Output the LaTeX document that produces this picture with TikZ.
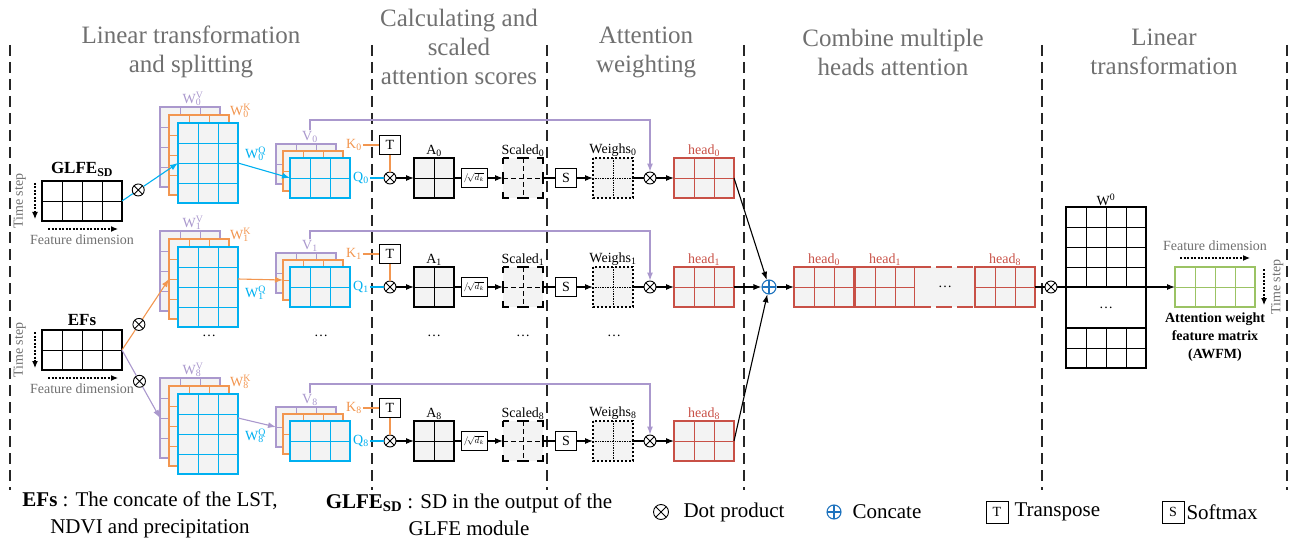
\documentclass[tikz,border=0pt]{standalone}
\usepackage{fontspec}
\setmainfont{Liberation Serif}
\usetikzlibrary{arrows.meta,positioning}

\definecolor{wpurple}{RGB}{170,152,205}
\definecolor{worange}{RGB}{242,150,80}
\definecolor{wblue}{RGB}{0,176,240}
\definecolor{hred}{RGB}{200,80,70}
\definecolor{agreen}{RGB}{155,195,100}
\definecolor{txtgray}{RGB}{112,112,112}
\definecolor{cellgray}{RGB}{243,243,243}
\definecolor{catblue}{RGB}{30,115,190}

\newcommand{\fhead}{\fontsize{25}{29}\selectfont}
\newcommand{\flab}{\fontsize{14}{16}\selectfont}
\newcommand{\fbig}{\fontsize{17}{20}\selectfont}
\newcommand{\fleg}{\fontsize{21}{27}\selectfont}
\newcommand{\fsmall}{\fontsize{9}{9}\selectfont}
\newcommand{\wlab}[3]{#1\rlap{\textsuperscript{#3}}\textsubscript{#2}}

% grid of cells: fill, name, top left, columns, rows, inner lines, border
\newcommand{\cellmat}[7][cellgray]{%
  \node[cellfill,fill=#1,anchor=north west,minimum width=#4*20pt,minimum height=#5*20pt] (#2) at (#3) {};
  \pgfmathtruncatemacro{\mcols}{#4-1}%
  \pgfmathtruncatemacro{\mrows}{#5-1}%
  \foreach \cc in {1,...,\mcols}
    \draw[#6] ([xshift=\cc*20pt]#2.north west) -- ([xshift=\cc*20pt]#2.south west);
  \foreach \rr in {1,...,\mrows}
    \draw[#6] ([yshift=-\rr*20pt]#2.north west) -- ([yshift=-\rr*20pt]#2.north east);
  \draw[#7] (#2.north west) rectangle (#2.south east);
}

\tikzset{
  cellfill/.style={inner sep=0pt,outer sep=0pt},
  cellline/.style={line width=0.7pt},
  mline/.style={line width=1.5pt},
  link/.style={line width=1.1pt},
  flow/.style={line width=1.1pt,-{Latex[length=8pt,width=6pt]}},
  dimarrow/.style={line width=1.1pt,dash pattern=on 2pt off 1.5pt,-{Latex[length=7pt,width=6pt]}},
  dotp/.style={circle,draw,line width=0.9pt,minimum size=12pt,inner sep=0pt,fill=white,
    path picture={\draw[line width=0.9pt] (path picture bounding box.north west) -- (path picture bounding box.south east)
      (path picture bounding box.north east) -- (path picture bounding box.south west);}},
  catp/.style={circle,draw=catblue,line width=1.1pt,minimum size=14pt,inner sep=0pt,fill=white,
    path picture={\draw[catblue,line width=1.1pt] (path picture bounding box.north) -- (path picture bounding box.south)
      (path picture bounding box.east) -- (path picture bounding box.west);}},
  opbox/.style={draw,line width=1pt,fill=white,minimum width=21pt,minimum height=19pt,inner sep=0pt,font=\flab},
  lab/.style={font=\flab,inner sep=1pt},
  gtxt/.style={font=\flab,text=txtgray,inner sep=0pt},
  sect/.style={draw=black!85,line width=1.1pt,dash pattern=on 11pt off 6pt},
  sectitle/.style={font=\fhead,text=txtgray,align=center,inner sep=0pt},
}

\begin{document}
\begin{tikzpicture}[x=1pt,y=-1pt]
\useasboundingbox (0,0) rectangle (1293,540);

% sections
\foreach \sx in {10,372,547,744,1042,1287}
  \draw[sect] (\sx,45) -- (\sx,490);
\node[sectitle] (h1) at (191,52) {Linear transformation\\and splitting};
\node[sectitle] (h2) at (459,47) {Calculating and\\scaled\\attention scores};
\node[sectitle] (h3) at (646,52) {Attention\\weighting};
\node[sectitle] (h4) at (893,52) {Combine multiple\\heads attention};
\node[sectitle] (h5) at (1164,52) {Linear\\transformation};

% inputs
\cellmat[white]{glfe}{42,181}{4}{2}{cellline}{mline}
\node[font=\fbig\bfseries,above=1pt of glfe] (glfel) {GLFE\textsubscript{SD}};
\cellmat[white]{efs}{42,330}{4}{2}{cellline}{mline}
\node[font=\fbig\bfseries,above=1pt of efs] (efsl) {EFs};
\foreach \m in {glfe,efs}{
  \draw[dimarrow] ([xshift=-7pt,yshift=-2pt]\m.north west) -- ([xshift=-7pt,yshift=2pt]\m.south west);
  \node[gtxt,rotate=90,anchor=south] at ([xshift=-16pt]\m.west) {Time step};
  \draw[dimarrow] ([xshift=6pt,yshift=-8pt]\m.south west) -- ([xshift=-4pt,yshift=-8pt]\m.south east);
  \node[gtxt,below=14pt of \m] {Feature dimension};
}

% heads
\foreach \i/\ry/\wy/\vy/\qo in {0/178/123/120/31, 1/287/247/231/46, 8/441/394/384/42}{
  \cellmat{wv\i}{160,\wy-16}{3}{4}{wpurple,cellline}{wpurple,mline}
  \cellmat{wk\i}{169,\wy-8}{3}{4}{worange,cellline}{worange,mline}
  \cellmat{wq\i}{178,\wy}{3}{4}{wblue,cellline}{wblue,mline}
  \node[lab,text=wpurple,above=0pt of wv\i,xshift=2pt] {\wlab{W}{\i}{V}};
  \node[lab,text=worange,anchor=south west] at ([yshift=-4pt]wk\i.north east) {\wlab{W}{\i}{K}};
  \node[lab,text=wblue,anchor=west] at ([xshift=6pt,yshift=-\qo pt]wq\i.north east) {\wlab{W}{\i}{Q}};
  \cellmat{qv\i}{276,\ry-34}{3}{2}{wpurple,cellline}{wpurple,mline}
  \cellmat{qk\i}{283,\ry-27}{3}{2}{worange,cellline}{worange,mline}
  \cellmat{qq\i}{290,\ry-20}{3}{2}{wblue,cellline}{wblue,mline}
  \node[lab,text=wpurple,anchor=south] (v\i) at ([xshift=4pt]qv\i.north) {V\textsubscript{\i}};
  \node[lab,text=worange,anchor=west] (k\i) at (345,\ry-33) {K\textsubscript{\i}};
  \node[lab,text=wblue,anchor=west] (q\i) at (352,\ry) {Q\textsubscript{\i}};
  \node[opbox] (t\i) at (390,\ry-33) {T};
  \node[dotp] (ma\i) at (390,\ry) {};
  \cellmat{a\i}{414,\ry-20}{2}{2}{cellline}{mline}
  \node[lab,above=0pt of a\i] {A\textsubscript{\i}};
  \node[opbox,minimum width=26pt,font=\fsmall] (sq\i) at (474,\ry) {$/\!\sqrt{d_k}$};
  \cellmat{sc\i}{503,\ry-20}{2}{2}{cellline,dash pattern=on 5pt off 3pt}{mline,dash pattern=on 12pt off 8pt,dash phase=6pt}
  \node[lab,above=0pt of sc\i] {Scaled\textsubscript{\i}};
  \node[opbox] (s\i) at (566,\ry) {S};
  \cellmat{we\i}{593,\ry-20}{2}{2}{cellline,densely dotted}{mline,dash pattern=on 2pt off 2pt}
  \node[lab,above=0pt of we\i] {Weighs\textsubscript{\i}};
  \node[dotp] (mb\i) at (650,\ry) {};
  \cellmat{hd\i}{674,\ry-20}{3}{2}{hred,cellline}{hred,mline}
  \node[lab,text=hred,above=0pt of hd\i] {head\textsubscript{\i}};
  \draw[wblue,link] (q\i) -- (ma\i);
  \draw[worange,link] (k\i) -- (t\i) (t\i) -- (ma\i);
  \draw[flow] (ma\i) -- (a\i);
  \draw[link] (a\i) -- (sq\i);
  \draw[flow] (sq\i) -- (sc\i);
  \draw[link] (sc\i) -- (s\i);
  \draw[flow] (s\i) -- (we\i);
  \draw[link] (we\i) -- (mb\i);
  \draw[flow] (mb\i) -- (hd\i);
  \draw[wpurple,flow] (v\i) |- (650,\vy) -- (mb\i);
}

% inputs into the weights
\path (glfe.east) -- node[dotp,pos=0.29] (xg0) {} (wq0.west);
\draw[wblue,link] (glfe.east) -- (xg0);
\draw[wblue,flow] (xg0) -- (wq0.west);
\path (efs.east) -- node[dotp,pos=0.36] (xe1) {} (wk1.west);
\draw[worange,link] (efs.east) -- (xe1);
\draw[worange,flow] (xe1) -- (wk1.west);
\path (efs.east) -- node[dotp,pos=0.46] (xe8) {} (wv8.west);
\draw[wpurple,link] (efs.east) -- (xe8);
\draw[wpurple,flow] (xe8) -- (wv8.west);
\draw[wblue,flow] (wq0.east) -- (qq0.west);
\draw[worange,flow] (wq1.east |- wk1.east) -- (qk1.west);
\draw[wpurple,flow] (wq8.east |- wv8.east) -- (qv8.west);

\node[lab] (dw) at (209,336) {\ldots};
\node[lab] (dq) at (321,336) {\ldots};
\node[lab] (da) at (434,336) {\ldots};
\node[lab] (ds) at (523,336) {\ldots};
\node[lab] (dwe) at (614,336) {\ldots};

% concatenation
\node[catp] (cat) at (769,287) {};
\foreach \i in {0,1,8}
  \draw[flow] (hd\i.east) -- (cat);
\cellmat{cc0}{794,267}{3}{2}{hred,cellline}{hred,mline}
\cellmat{cc1}{855,267}{3}{2}{hred,cellline}{hred,mline}
\node[cellfill,fill=cellgray,anchor=north west,minimum width=60pt,minimum height=40pt,font=\flab] (ccd) at (915,267) {\ldots};
\draw[hred,mline,dash pattern=on 16pt off 5pt] (ccd.north west) -- (ccd.north east) (ccd.south west) -- (ccd.south east);
\cellmat{cc8}{975,267}{3}{2}{hred,cellline}{hred,mline}
\foreach \i in {0,1,8}
  \node[lab,text=hred,above=0pt of cc\i] {head\textsubscript{\i}};
\draw[flow] (cat) -- (cc0);

% output projection
\node[dotp] (xo) at (1051,287) {};
\cellmat[white]{wot}{1066,207}{4}{4}{cellline}{mline}
\node[cellfill,fill=white,anchor=north west,minimum width=80pt,minimum height=41pt,font=\flab] (wom) at (1066,287) {\ldots};
\cellmat[white]{wob}{1066,328}{4}{2}{cellline}{mline}
\draw[mline] (wot.north west) rectangle (wob.south east);
\node[lab,above=0pt of wot] (wol) {W\textsuperscript{0}};
\cellmat[white]{awfm}{1175,267}{4}{2}{agreen,cellline}{agreen,mline}
\draw[link] (cc8) -- (xo);
\draw[flow] (xo) -- (awfm);
\draw[dimarrow] ([xshift=5pt,yshift=9pt]awfm.north west) -- ([xshift=-5pt,yshift=9pt]awfm.north east);
\node[gtxt,above=16pt of awfm] {Feature dimension};
\draw[dimarrow] ([xshift=9pt,yshift=-2pt]awfm.north east) -- ([xshift=9pt,yshift=2pt]awfm.south east);
\node[gtxt,rotate=90,anchor=north] at ([xshift=16pt]awfm.east) {Time step};
\node[font=\fontsize{14}{18}\selectfont\bfseries,align=center,below=2pt of awfm] (awfml) {Attention weight\\feature matrix\\(AWFM)};

% legend
\node[font=\fleg,align=center] (legefs) at (150,515) {\textbf{EFs} : The concate of the LST,\\NDVI and precipitation};
\node[font=\fleg,align=center] (legglfe) at (469,515) {\textbf{GLFE\textsubscript{SD}} : SD in the output of the\\GLFE module};
\node[dotp,minimum size=15pt] (lgdot) at (661,512) {};
\node[font=\fleg,anchor=west] (lgdott) at (680,512) {Dot product};
\node[catp,minimum size=14pt] (lgcat) at (834,512) {};
\node[font=\fleg,anchor=west] (lgcatt) at (849,512) {Concate};
\node[opbox,minimum size=22pt] (lgt) at (997,512) {T};
\node[font=\fleg,anchor=west] (lgtt) at (1011,512) {Transpose};
\node[opbox,minimum size=22pt] (lgs) at (1173,512) {S};
\node[font=\fleg,anchor=west] (lgst) at (1183,512) {Softmax};
\end{tikzpicture}
\end{document}
